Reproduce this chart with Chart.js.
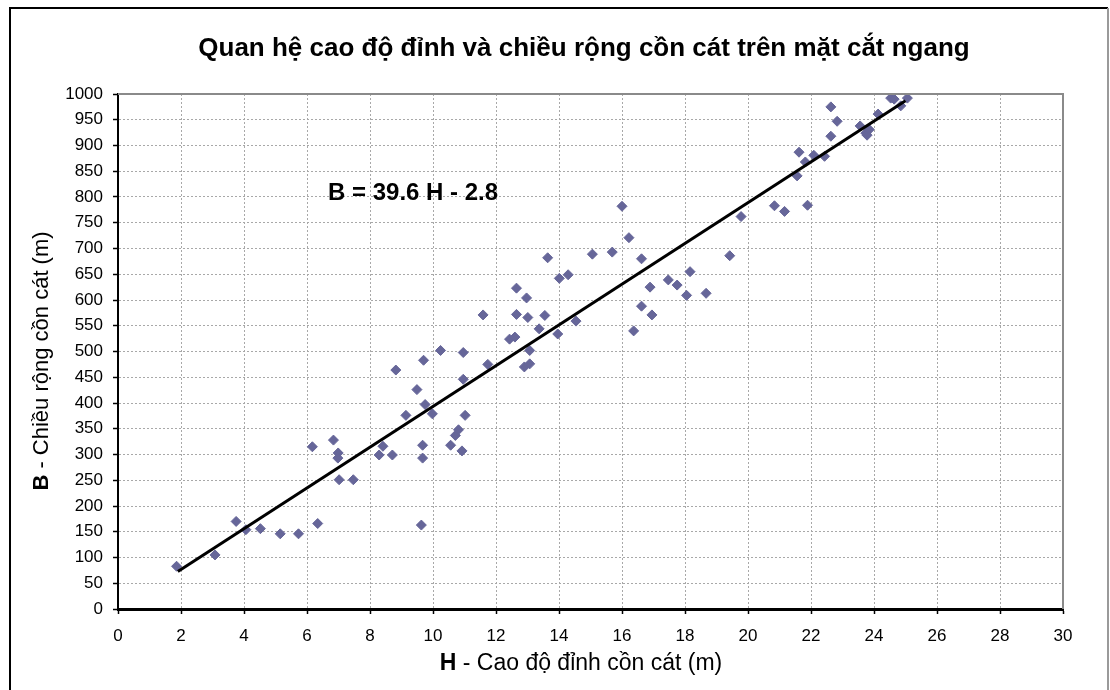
<!DOCTYPE html>
<html>
<head>
<meta charset="utf-8">
<script src="https://cdn.jsdelivr.net/npm/chart.js@4.4.1/dist/chart.umd.min.js"></script>
<style>
  html, body { margin: 0; padding: 0; background: #fff; }
  #wrap { width: 1110px; height: 690px; position: relative; }
</style>
</head>
<body>
<div id="wrap"><canvas id="duneChart"></canvas></div>
<script>
// crest height H (m) and dune width B (m)
const heightH = [
    1.86, 3.08, 3.75, 4.06, 4.52, 5.15, 5.73, 6.34, 6.17, 6.84,
    6.99, 6.98, 7.02, 7.47, 8.41, 8.29, 8.71, 8.82, 9.14, 9.49,
    9.70, 9.75, 9.98, 9.67, 9.67, 9.63, 10.24, 10.56, 10.71, 10.81,
    10.92, 10.96, 10.96, 11.02, 11.59, 11.74, 12.43, 12.60, 12.65, 12.65,
    12.97, 13.01, 12.90, 13.07, 13.07, 13.37, 13.55, 13.64, 13.96, 14.01,
    14.29, 14.54, 15.06, 15.69, 16.00, 16.22, 16.62, 16.62, 16.37, 16.89,
    16.95, 17.47, 17.75, 18.16, 18.05, 18.67, 19.42, 19.78, 20.84, 21.16,
    21.89, 21.56, 21.62, 21.82, 22.09, 22.43, 22.63, 22.63, 22.83, 23.56,
    23.74, 23.78, 23.85, 24.13, 24.53, 24.64, 24.85, 25.06
];
const widthB = [
    83, 105, 170, 154, 156, 146, 146, 166, 315, 328,
    303, 293, 251, 251, 316, 299, 299, 464, 376, 426,
    483, 397, 379, 318, 293, 163, 502, 318, 337, 348,
    307, 498, 446, 376, 571, 475, 524, 528, 572, 623,
    604, 566, 470, 476, 502, 544, 570, 682, 534, 642,
    649, 559, 689, 693, 782, 721, 680, 588, 540, 625,
    571, 639, 629, 655, 609, 613, 686, 762, 783, 772,
    784, 841, 887, 868, 881, 879, 975, 918, 947, 938,
    924, 920, 931, 961, 992, 990, 977, 992
];
// ends of the fitted line B = 39.6 H - 2.8
const fitH = [1.9, 25.0];
const fitB = [73, 987];

const titleText = 'Quan hệ cao độ đỉnh và chiều rộng cồn cát trên mặt cắt ngang';
const equationText = 'B = 39.6 H - 2.8';
const xTitle = ['H', ' - Cao độ đỉnh cồn cát (m)'];
const yTitle = ['B', ' - Chiều rộng cồn cát (m)'];

const FONT = '"Liberation Sans", Arial, sans-serif';

const toPoints = (xs, ys) => xs.map((x, i) => ({ x, y: ys[i] }));

const drawMixed = (ctx, parts, cx, cy, size) => {
    ctx.font = `bold ${size}px ${FONT}`;
    const w0 = ctx.measureText(parts[0]).width;
    ctx.font = `${size}px ${FONT}`;
    const w1 = ctx.measureText(parts[1]).width;
    let x = cx - (w0 + w1) / 2;
    ctx.textAlign = 'left';
    ctx.textBaseline = 'middle';
    ctx.font = `bold ${size}px ${FONT}`;
    ctx.fillText(parts[0], x, cy);
    ctx.font = `${size}px ${FONT}`;
    ctx.fillText(parts[1], x + w0, cy);
};

const decorations = {
    id: 'decorations',
    beforeDraw(chart) {
        const ctx = chart.ctx;
        ctx.save();
        ctx.fillStyle = '#fff';
        ctx.fillRect(0, 0, chart.width, chart.height);
        ctx.restore();
    },
    afterDraw(chart) {
        const ctx = chart.ctx;
        const area = chart.chartArea;
        ctx.save();

        // plot frame top + right
        ctx.strokeStyle = '#8a8a8a';
        ctx.lineWidth = 2;
        ctx.beginPath();
        ctx.moveTo(area.left, area.top);
        ctx.lineTo(area.right, area.top);
        ctx.lineTo(area.right, area.bottom);
        ctx.stroke();

        // outer frame
        ctx.strokeStyle = '#000';
        ctx.lineWidth = 2;
        ctx.beginPath();
        ctx.moveTo(10, 700);
        ctx.lineTo(10, 8);
        ctx.lineTo(1108, 8);
        ctx.stroke();
        ctx.strokeStyle = '#9a9a9a';
        ctx.beginPath();
        ctx.moveTo(1108, 8);
        ctx.lineTo(1108, 700);
        ctx.stroke();

        ctx.fillStyle = '#000';
        ctx.textAlign = 'center';
        ctx.textBaseline = 'middle';
        ctx.font = `bold 26px ${FONT}`;
        ctx.fillText(titleText, 584, 49);

        ctx.textAlign = 'left';
        ctx.font = `bold 24px ${FONT}`;
        ctx.fillText(equationText, 328, 193);

        drawMixed(ctx, xTitle, 581, 664, 23);

        ctx.translate(42, 361);
        ctx.rotate(-Math.PI / 2);
        drawMixed(ctx, yTitle, 0, 0, 22);
        ctx.restore();
    }
};

const gridOpts = {
    color: '#a8a8a8',
    lineWidth: 1,
    tickLength: 5,
    tickColor: '#000',
    tickWidth: 1.5,
    tickBorderDash: []
};

new Chart(document.getElementById('duneChart'), {
    type: 'scatter',
    data: {
        datasets: [
            {
                type: 'line',
                data: toPoints(fitH, fitB),
                borderColor: '#000',
                borderWidth: 3,
                pointRadius: 0,
                fill: false,
                order: 0
            },
            {
                data: toPoints(heightH, widthB),
                backgroundColor: '#666699',
                borderColor: '#666699',
                borderWidth: 1,
                pointStyle: 'rectRot',
                pointRadius: 5,
                order: 1
            }
        ]
    },
    options: {
        responsive: true,
        maintainAspectRatio: false,
        animation: false,
        layout: { padding: { left: 0, top: 94, right: 47, bottom: 0 } },
        plugins: {
            legend: { display: false },
            tooltip: { enabled: false },
            title: { display: false }
        },
        scales: {
            x: {
                type: 'linear',
                min: 0,
                max: 30,
                afterFit: (scale) => { scale.height = 81; },
                ticks: {
                    stepSize: 2,
                    padding: 12,
                    color: '#000',
                    font: { family: FONT, size: 17 },
                    callback: (v) => String(v)
                },
                grid: gridOpts,
                border: { color: '#000', width: 3, dash: [2, 2] }
            },
            y: {
                min: 0,
                max: 1000,
                afterFit: (scale) => { scale.width = 118; },
                ticks: {
                    stepSize: 50,
                    padding: 10,
                    color: '#000',
                    font: { family: FONT, size: 17 },
                    callback: (v) => String(v)
                },
                grid: gridOpts,
                border: { color: '#000', width: 2, dash: [2, 2] }
            }
        }
    },
    plugins: [decorations]
});
</script>
</body>
</html>
